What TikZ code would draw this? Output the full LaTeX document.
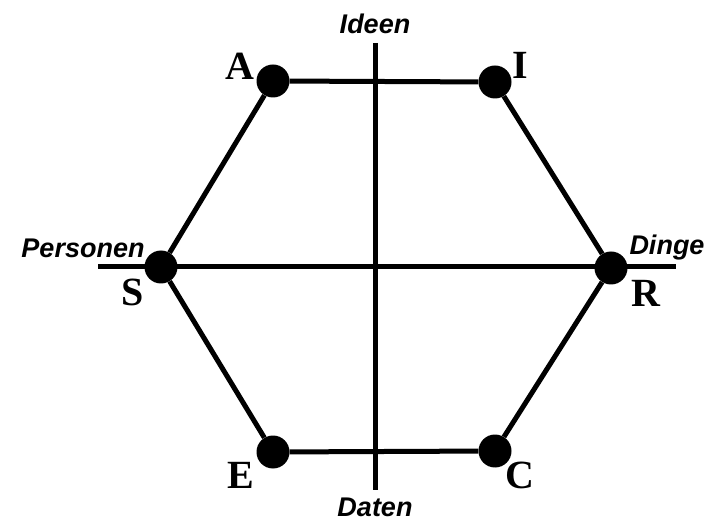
\documentclass[tikz,border=0pt]{standalone}
\usepackage{fontspec}
\setmainfont{Liberation Serif}
\newfontfamily\axisfont{Liberation Sans}
\begin{document}
\begin{tikzpicture}[x=1pt,y=-1pt,
  edge/.style={line width=5pt},
  dot/.style={circle,fill=black,inner sep=0pt,minimum size=33pt},
  axislabel/.style={font=\axisfont\bfseries\itshape\fontsize{27}{30}\selectfont,inner sep=0pt},
  letter/.style={font=\bfseries\fontsize{40}{42}\selectfont,inner sep=0pt}]
\useasboundingbox[fill=white] (0,0) rectangle (710,521);
% axes
\coordinate (top) at (375,43);
\coordinate (bot) at (375,490);
\coordinate (left) at (98,267);
\coordinate (right) at (676,267);
\draw[edge] (top) -- (bot);
\draw[edge] (left) -- (right);
% vertices
\node[dot] (A) at (273,81) {};
\node[dot] (I) at (495,82) {};
\node[dot] (S) at (161,267) {};
\node[dot] (R) at (611,268) {};
\node[dot] (E) at (273,452) {};
\node[dot] (C) at (495,451) {};
\draw[edge] (A) -- (I) -- (R) -- (C) -- (E) -- (S) -- (A);
% letters
\node[letter] (lA) at (240,66) {A};
\node[letter] (lI) at (520,65) {I};
\node[letter] (lS) at (133,292) {S};
\node[letter] (lR) at (646,293) {R};
\node[letter] (lE) at (241,475) {E};
\node[letter] (lC) at (520,475) {C};
% axis labels
\node[axislabel] (ideen) at (375,24) {Ideen};
\node[axislabel] (daten) at (375,507) {Daten};
\node[axislabel] (pers) at (83,248) {Personen};
\node[axislabel] (dinge) at (667,248) {Dinge};
\end{tikzpicture}
\end{document}
